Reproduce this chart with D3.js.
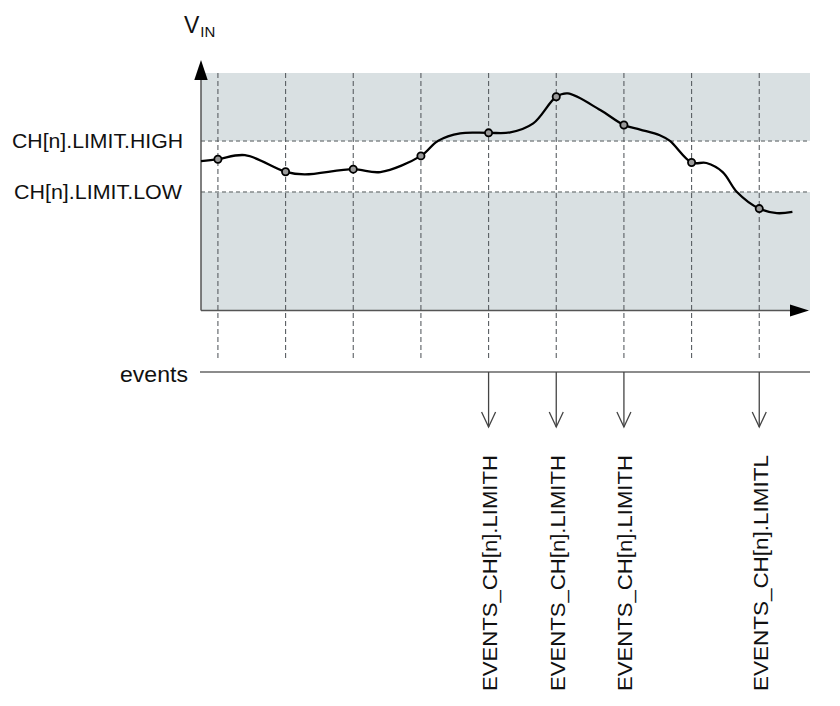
<!DOCTYPE html>
<html>
<head>
<meta charset="utf-8">
<script src="https://cdn.jsdelivr.net/npm/d3@7"></script>
<style>
  html, body { margin: 0; padding: 0; background: #fff; }
  svg { display: block; }
  text { font-family: "Liberation Sans", Arial, Helvetica, sans-serif; fill: #111; }
</style>
</head>
<body>
<svg id="chart" width="840" height="706"></svg>
<script>
// ---------------- data ----------------
const sampleTimes  = [0, 1, 2, 3, 4, 5, 6, 7, 8];
const sampleValues = [63.7, 58.4, 59.5, 65.1, 74.8, 90.0, 78.1, 62.3, 42.9];

const waveT = [-0.25, 0, 0.40, 1, 1.28, 2, 2.40, 3, 3.25, 3.58, 4, 4.32, 4.66, 5, 5.17, 5.65, 6, 6.24, 6.53, 6.68, 7, 7.22, 7.46, 7.67, 8, 8.26, 8.49];
const waveV = [62.9, 63.7, 65.4, 58.4, 57.3, 59.5, 58.3, 65.1, 71.4, 74.6, 74.8, 75.0, 78.8, 90.0, 91.4, 84.4, 78.1, 76.2, 73.8, 71.4, 62.3, 62.1, 58.3, 49.9, 42.9, 41.0, 41.5];

const limitNames  = ["CH[n].LIMIT.HIGH", "CH[n].LIMIT.LOW"];
const limitValues = [71.4, 49.9];

const eventTimes  = [4, 5, 6, 8];
const eventLabels = ["EVENTS_CH[n].LIMITH", "EVENTS_CH[n].LIMITH", "EVENTS_CH[n].LIMITH", "EVENTS_CH[n].LIMITL"];

const axisLabel = "V";
const axisSub = "IN";
const eventsLabel = "events";

// ---------------- layout ----------------
const svg = d3.select("#chart");
const x = d3.scaleLinear().domain([-0.25, 8.75]).range([201, 810]);
const y = d3.scaleLinear().domain([0, 100]).range([310.5, 73]);

const shade = "#d9e0e2";
const xL = x(-0.25), xR = x(8.75);

// shaded bands above high limit and below low limit
svg.append("rect").attr("x", xL).attr("y", y(100)).attr("width", xR - xL)
  .attr("height", y(limitValues[0]) - y(100)).attr("fill", shade);
svg.append("rect").attr("x", xL).attr("y", y(limitValues[1])).attr("width", xR - xL)
  .attr("height", y(0) - y(limitValues[1])).attr("fill", shade);

// horizontal dashed limit lines
svg.selectAll("line.limit").data(limitValues).enter().append("line")
  .attr("class", "limit")
  .attr("x1", xL).attr("x2", xR)
  .attr("y1", d => y(d)).attr("y2", d => y(d))
  .attr("stroke", "#858a8c").attr("stroke-width", 1.5)
  .attr("stroke-dasharray", "4,3");

// vertical dashed sample lines
const eventsY = 372;
svg.selectAll("line.vgrid").data(sampleTimes).enter().append("line")
  .attr("class", "vgrid")
  .attr("x1", d => x(d)).attr("x2", d => x(d))
  .attr("y1", y(100)).attr("y2", 360)
  .attr("stroke", "#5a5f63").attr("stroke-width", 1.1)
  .attr("stroke-dasharray", "5,3");

// axes
svg.append("line").attr("x1", xL).attr("x2", xL).attr("y1", y(0)).attr("y2", 78)
  .attr("stroke", "#555").attr("stroke-width", 1.5);
svg.append("path").attr("d", `M${xL},60 L${xL - 6.7},80 L${xL + 6.7},80 Z`).attr("fill", "#000");
svg.append("line").attr("x1", xL).attr("x2", 792).attr("y1", y(0)).attr("y2", y(0))
  .attr("stroke", "#555").attr("stroke-width", 1.5);
svg.append("path").attr("d", `M809,${y(0)} L790,${y(0) - 6} L790,${y(0) + 6} Z`).attr("fill", "#000");

// waveform
const wave = waveT.map((t, i) => [t, waveV[i]]);
const line = d3.line().x(d => x(d[0])).y(d => y(d[1])).curve(d3.curveCatmullRom.alpha(0.5));
svg.append("path").attr("d", line(wave)).attr("fill", "none")
  .attr("stroke", "#000").attr("stroke-width", 2.3);

// sample points
svg.selectAll("circle.s").data(sampleTimes).enter().append("circle")
  .attr("class", "s")
  .attr("cx", d => x(d)).attr("cy", (d, i) => y(sampleValues[i]))
  .attr("r", 3.6).attr("fill", "#9a9a9a").attr("stroke", "#000").attr("stroke-width", 1.8);

// limit labels
svg.selectAll("text.lim").data(limitNames).enter().append("text")
  .attr("class", "lim")
  .attr("x", (d, i) => i === 0 ? 183 : 182)
  .attr("y", (d, i) => y(limitValues[i]) + 7.3)
  .attr("text-anchor", "end")
  .attr("font-size", 21)
  .attr("textLength", (d, i) => i === 0 ? 171 : 168)
  .attr("lengthAdjust", "spacingAndGlyphs")
  .text(d => d);

// axis label V_IN
const vt = svg.append("text").attr("x", 184).attr("y", 32.7).attr("font-size", 23);
vt.append("tspan").text(axisLabel);
vt.append("tspan").attr("font-size", 15).attr("dy", 4).attr("dx", 1).text(axisSub);

// events line & label
svg.append("line").attr("x1", 200).attr("x2", xR).attr("y1", eventsY).attr("y2", eventsY)
  .attr("stroke", "#666").attr("stroke-width", 1.3);
svg.append("text").attr("x", 188).attr("y", 381.5).attr("text-anchor", "end")
  .attr("font-size", 21.5).attr("textLength", 68).attr("lengthAdjust", "spacingAndGlyphs")
  .text(eventsLabel);

// event arrows
const arrowTip = 427;
const ev = svg.selectAll("g.ev").data(eventTimes).enter().append("g").attr("class", "ev");
ev.append("line").attr("x1", d => x(d)).attr("x2", d => x(d))
  .attr("y1", eventsY).attr("y2", arrowTip)
  .attr("stroke", "#444").attr("stroke-width", 1.3);
ev.append("path")
  .attr("d", d => `M${x(d) - 7},${arrowTip - 15} L${x(d)},${arrowTip} L${x(d) + 7},${arrowTip - 15}`)
  .attr("fill", "none").attr("stroke", "#444").attr("stroke-width", 1.3);
ev.append("text")
  .attr("transform", d => `translate(${x(d) + 1},455) rotate(-90)`)
  .attr("text-anchor", "end")
  .attr("dominant-baseline", "central")
  .attr("font-size", 20.5)
  .attr("textLength", 236)
  .attr("lengthAdjust", "spacingAndGlyphs")
  .text((d, i) => eventLabels[i]);
</script>
</body>
</html>
